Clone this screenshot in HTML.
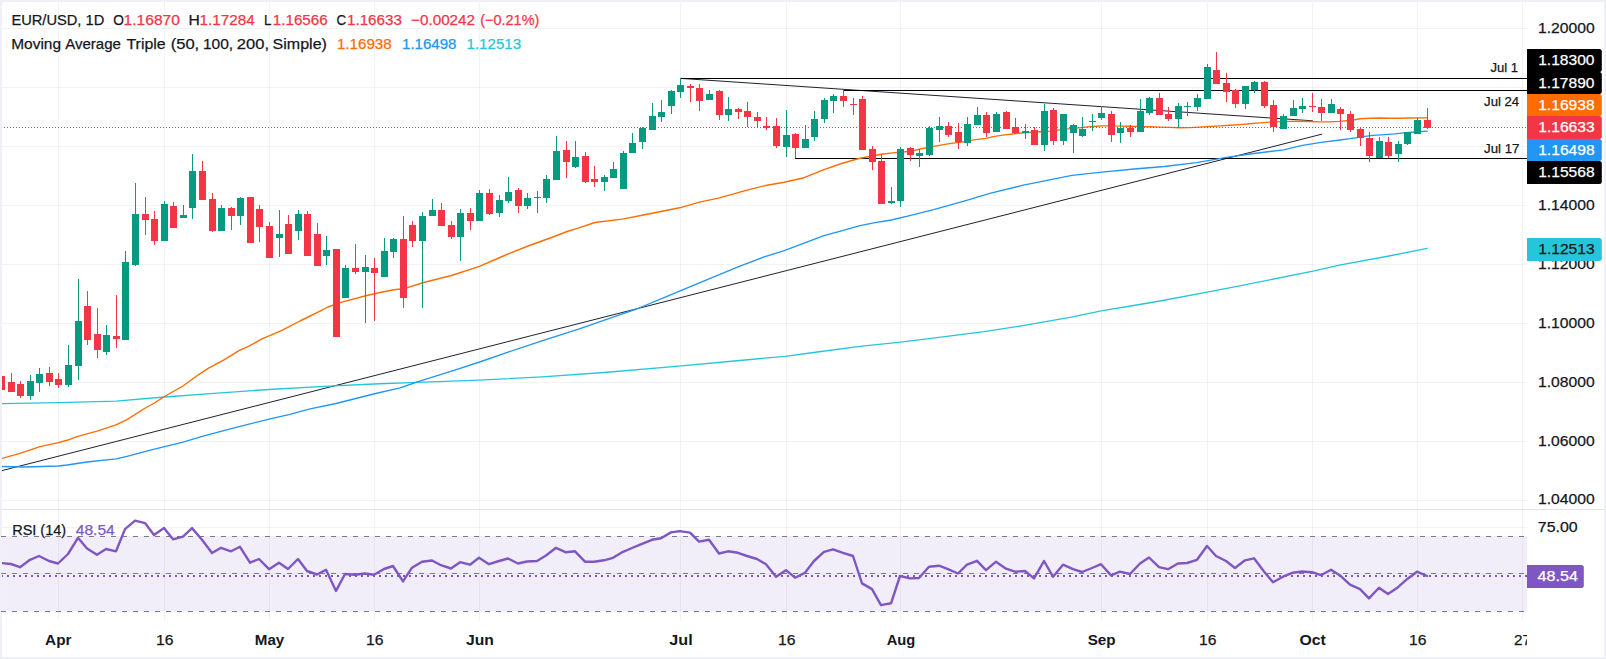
<!DOCTYPE html>
<html><head><meta charset="utf-8"><title>EUR/USD chart</title>
<style>html,body{margin:0;padding:0;background:#fff}body{width:1606px;height:659px;overflow:hidden}svg{display:block}</style></head>
<body>
<svg width="1606" height="659" viewBox="0 0 1606 659" font-family="'Liberation Sans', sans-serif">
<rect x="0" y="0" width="1606" height="659" fill="#eef0f5"/>
<rect x="1.9" y="1.9" width="1602.1999999999998" height="655.1" fill="#fff"/>
<defs><clipPath id="cp"><rect x="2" y="2" width="1525" height="655"/></clipPath></defs>
<g stroke="rgb(42,46,57)" stroke-opacity="0.06" stroke-width="1" shape-rendering="crispEdges">
<line x1="58.5" y1="2" x2="58.5" y2="621"/>
<line x1="164.5" y1="2" x2="164.5" y2="621"/>
<line x1="269.5" y1="2" x2="269.5" y2="621"/>
<line x1="374.5" y1="2" x2="374.5" y2="621"/>
<line x1="479.5" y1="2" x2="479.5" y2="621"/>
<line x1="680.5" y1="2" x2="680.5" y2="621"/>
<line x1="786.5" y1="2" x2="786.5" y2="621"/>
<line x1="900.5" y1="2" x2="900.5" y2="621"/>
<line x1="1101.5" y1="2" x2="1101.5" y2="621"/>
<line x1="1207.5" y1="2" x2="1207.5" y2="621"/>
<line x1="1312.5" y1="2" x2="1312.5" y2="621"/>
<line x1="1417.5" y1="2" x2="1417.5" y2="621"/>
<line x1="1522.5" y1="2" x2="1522.5" y2="621"/>
<line x1="2" y1="28.5" x2="1527" y2="28.5"/>
<line x1="2" y1="87.5" x2="1527" y2="87.5"/>
<line x1="2" y1="146.5" x2="1527" y2="146.5"/>
<line x1="2" y1="205.5" x2="1527" y2="205.5"/>
<line x1="2" y1="264.5" x2="1527" y2="264.5"/>
<line x1="2" y1="323.5" x2="1527" y2="323.5"/>
<line x1="2" y1="382.5" x2="1527" y2="382.5"/>
<line x1="2" y1="441.5" x2="1527" y2="441.5"/>
<line x1="2" y1="500.5" x2="1527" y2="500.5"/>
<line x1="2" y1="527.5" x2="1527" y2="527.5"/>
<line x1="2" y1="573.5" x2="1527" y2="573.5"/>
</g>
<line x1="2" y1="509.5" x2="1604" y2="509.5" stroke="#e0e3eb" stroke-width="1" shape-rendering="crispEdges"/>
<rect x="2" y="536" width="1525" height="75" fill="#7e57c2" fill-opacity="0.1"/>
<g stroke="#787b86" stroke-width="1" stroke-dasharray="5 6" fill="none" shape-rendering="crispEdges">
<line x1="1" y1="536.5" x2="1525" y2="536.5"/>
<line x1="1" y1="573.5" x2="1525" y2="573.5"/>
<line x1="1" y1="611.5" x2="1525" y2="611.5"/>
</g>
<g clip-path="url(#cp)">
<line x1="1.5" y1="470.7" x2="1321.7" y2="134.2" stroke="#1e222d" stroke-width="1" stroke-linecap="round"/>
<line x1="680.6" y1="78.4" x2="1312.5" y2="120.8" stroke="#1e222d" stroke-width="1" stroke-linecap="round"/>
<g stroke="#000" stroke-width="1" shape-rendering="crispEdges">
<line x1="679.5" y1="78.5" x2="1528" y2="78.5"/>
<line x1="842.5" y1="90.5" x2="1528" y2="90.5"/>
<line x1="794.5" y1="158.5" x2="1528" y2="158.5"/>
</g>
<polyline fill="none" stroke="#26c6da" stroke-width="1.35" stroke-linejoin="round" stroke-linecap="round" points="1.5,403.7 58.5,402.7 116.0,401.2 164.4,397.0 214.0,393.3 269.0,389.5 324.0,386.3 373.6,384.0 417.4,382.4 479.6,380.2 541.9,376.9 604.2,372.5 678.9,366.2 728.7,361.5 784.9,356.3 817.3,352.0 859.6,346.3 900.7,342.1 946.8,336.4 984.2,331.6 1021.5,325.9 1071.3,317.2 1101.2,310.9 1133.6,305.5 1160.0,301.0 1207.2,292.1 1239.6,285.9 1314.3,270.9 1339.3,265.2 1389.0,256.0 1427.2,248.3"/>
<polyline fill="none" stroke="#2196f3" stroke-width="1.35" stroke-linejoin="round" stroke-linecap="round" points="1.5,466.5 25.0,467.0 58.5,466.0 67.0,465.0 87.0,462.0 116.0,458.8 127.0,456.3 149.4,450.3 183.0,442.1 204.0,435.9 239.0,426.6 269.0,419.2 289.0,414.7 309.0,409.2 336.0,403.5 373.6,394.0 400.0,387.8 417.4,381.9 454.7,370.2 479.6,362.0 504.5,353.3 541.9,340.8 579.3,328.9 616.6,315.9 636.5,309.0 666.4,296.7 698.8,283.1 738.7,266.6 764.2,256.9 784.2,250.7 804.1,243.2 824.0,235.7 841.5,230.8 858.9,225.8 873.8,222.8 891.3,220.0 908.7,215.8 933.6,209.6 964.9,200.9 989.8,193.4 1022.2,185.4 1047.1,180.4 1072.0,175.4 1101.9,172.2 1134.3,169.0 1164.2,166.5 1196.5,162.7 1226.4,157.3 1253.8,153.5 1283.7,149.8 1301.1,145.6 1321.1,142.3 1340.0,140.0 1350.0,138.7 1356.9,137.6 1364.9,136.4 1372.9,135.4 1384.8,134.7 1394.8,133.9 1403.7,132.9 1415.0,132.0 1427.2,131.1"/>
<polyline fill="none" stroke="#ff6d00" stroke-width="1.4" stroke-linejoin="round" stroke-linecap="round" points="1.5,458.5 20.0,453.3 40.0,446.6 58.5,442.6 67.0,440.3 77.0,436.6 97.0,431.1 116.0,424.9 127.0,419.7 144.5,408.5 154.4,403.0 164.4,396.5 183.0,386.0 199.0,374.3 209.0,367.9 224.0,359.9 239.0,350.7 249.0,346.2 261.5,339.2 281.4,330.7 300.0,321.0 320.0,311.2 328.0,307.0 340.0,302.6 365.8,295.7 380.0,292.5 393.7,289.7 403.7,288.8 423.6,282.5 451.5,275.5 479.4,266.3 504.5,255.5 529.4,245.5 554.3,236.5 567.0,231.5 577.4,228.3 594.9,222.5 622.3,219.1 642.2,215.3 679.6,207.8 699.5,202.1 719.4,197.9 744.3,190.9 766.7,185.2 784.2,182.2 804.1,177.7 824.0,169.7 841.5,163.5 858.9,158.5 881.3,154.3 893.0,152.9 905.0,151.8 914.9,150.3 923.9,148.3 933.9,146.4 944.8,144.4 954.8,142.9 963.7,141.7 973.7,139.9 985.7,138.4 994.6,136.4 1004.6,134.9 1014.5,133.7 1024.5,132.7 1039.4,131.7 1049.4,131.1 1058.0,130.1 1067.9,128.9 1078.9,127.9 1087.8,126.9 1096.8,126.3 1101.8,125.9 1107.8,125.9 1119.7,126.1 1129.7,126.3 1136.7,126.4 1149.6,126.7 1159.6,127.1 1169.5,127.4 1179.5,127.7 1189.4,127.6 1199.4,127.1 1210.0,126.5 1219.9,125.9 1229.9,125.3 1239.8,124.6 1249.8,123.7 1259.8,122.9 1269.7,122.1 1289.6,121.4 1299.6,121.2 1309.6,121.5 1319.5,121.9 1329.5,121.9 1339.4,121.4 1349.4,120.5 1355.9,119.5 1359.9,118.7 1369.9,118.2 1379.8,118.0 1389.8,118.2 1399.8,118.2 1409.7,118.0 1427.2,117.9"/>
<g fill="#f23645" shape-rendering="crispEdges">
<rect x="1.0" y="364" width="1" height="26"/>
<rect x="-2.0" y="376" width="7" height="14"/>
<rect x="11.0" y="373" width="1" height="19"/>
<rect x="8.0" y="382" width="7" height="10"/>
<rect x="20.0" y="381" width="1" height="17"/>
<rect x="17.0" y="384" width="7" height="12"/>
<rect x="49.0" y="367" width="1" height="19"/>
<rect x="46.0" y="373" width="7" height="9"/>
<rect x="58.0" y="373" width="1" height="15"/>
<rect x="55.0" y="379" width="7" height="6"/>
<rect x="87.0" y="291" width="1" height="54"/>
<rect x="84.0" y="306" width="7" height="34"/>
<rect x="97.0" y="308" width="1" height="50"/>
<rect x="94.0" y="334" width="7" height="16"/>
<rect x="116.0" y="295" width="1" height="53"/>
<rect x="113.0" y="336" width="7" height="3"/>
<rect x="145.0" y="197" width="1" height="38"/>
<rect x="142.0" y="214" width="7" height="6"/>
<rect x="154.0" y="211" width="1" height="34"/>
<rect x="151.0" y="219" width="7" height="22"/>
<rect x="173.0" y="202" width="1" height="26"/>
<rect x="170.0" y="206" width="7" height="22"/>
<rect x="202.0" y="161" width="1" height="39"/>
<rect x="199.0" y="171" width="7" height="29"/>
<rect x="212.0" y="193" width="1" height="39"/>
<rect x="209.0" y="199" width="7" height="32"/>
<rect x="231.0" y="207" width="1" height="23"/>
<rect x="228.0" y="208" width="7" height="8"/>
<rect x="250.0" y="197" width="1" height="46"/>
<rect x="247.0" y="197" width="7" height="46"/>
<rect x="259.0" y="205" width="1" height="37"/>
<rect x="256.0" y="209" width="7" height="18"/>
<rect x="269.0" y="222" width="1" height="36"/>
<rect x="266.0" y="226" width="7" height="32"/>
<rect x="288.0" y="215" width="1" height="39"/>
<rect x="285.0" y="224" width="7" height="30"/>
<rect x="307.0" y="211" width="1" height="45"/>
<rect x="304.0" y="214" width="7" height="42"/>
<rect x="317.0" y="223" width="1" height="43"/>
<rect x="314.0" y="234" width="7" height="32"/>
<rect x="336.0" y="249" width="1" height="88"/>
<rect x="333.0" y="249" width="7" height="88"/>
<rect x="355.0" y="244" width="1" height="30"/>
<rect x="352.0" y="268" width="7" height="4"/>
<rect x="374.0" y="258" width="1" height="63"/>
<rect x="371.0" y="268" width="7" height="5"/>
<rect x="403.0" y="216" width="1" height="92"/>
<rect x="400.0" y="239" width="7" height="59"/>
<rect x="412.0" y="221" width="1" height="26"/>
<rect x="409.0" y="225" width="7" height="16"/>
<rect x="441.0" y="203" width="1" height="23"/>
<rect x="438.0" y="210" width="7" height="16"/>
<rect x="451.0" y="221" width="1" height="18"/>
<rect x="448.0" y="225" width="7" height="12"/>
<rect x="470.0" y="208" width="1" height="22"/>
<rect x="467.0" y="213" width="7" height="8"/>
<rect x="489.0" y="189" width="1" height="26"/>
<rect x="486.0" y="193" width="7" height="21"/>
<rect x="518.0" y="188" width="1" height="25"/>
<rect x="515.0" y="190" width="7" height="16"/>
<rect x="566.0" y="141" width="1" height="37"/>
<rect x="563.0" y="150" width="7" height="12"/>
<rect x="585.0" y="152" width="1" height="31"/>
<rect x="582.0" y="156" width="7" height="26"/>
<rect x="594.0" y="166" width="1" height="21"/>
<rect x="591.0" y="179" width="7" height="3"/>
<rect x="690.0" y="84" width="1" height="18"/>
<rect x="687.0" y="86" width="7" height="2"/>
<rect x="699.0" y="84" width="1" height="27"/>
<rect x="696.0" y="88" width="7" height="13"/>
<rect x="719.0" y="90" width="1" height="30"/>
<rect x="716.0" y="91" width="7" height="24"/>
<rect x="738.0" y="108" width="1" height="11"/>
<rect x="735.0" y="109" width="7" height="3"/>
<rect x="747.0" y="102" width="1" height="25"/>
<rect x="744.0" y="111" width="7" height="6"/>
<rect x="757.0" y="112" width="1" height="16"/>
<rect x="754.0" y="117" width="7" height="4"/>
<rect x="766.0" y="117" width="1" height="13"/>
<rect x="763.0" y="126" width="7" height="2"/>
<rect x="776.0" y="118" width="1" height="30"/>
<rect x="773.0" y="126" width="7" height="20"/>
<rect x="795.0" y="133" width="1" height="25"/>
<rect x="792.0" y="134" width="7" height="14"/>
<rect x="843.0" y="90" width="1" height="17"/>
<rect x="840.0" y="96" width="7" height="5"/>
<rect x="853.0" y="98" width="1" height="17"/>
<rect x="850.0" y="104" width="7" height="1"/>
<rect x="862.0" y="96" width="1" height="54"/>
<rect x="859.0" y="99" width="7" height="51"/>
<rect x="872.0" y="146" width="1" height="24"/>
<rect x="869.0" y="149" width="7" height="13"/>
<rect x="881.0" y="154" width="1" height="50"/>
<rect x="878.0" y="161" width="7" height="43"/>
<rect x="910.0" y="147" width="1" height="14"/>
<rect x="907.0" y="148" width="7" height="7"/>
<rect x="948.0" y="122" width="1" height="15"/>
<rect x="945.0" y="126" width="7" height="9"/>
<rect x="958.0" y="123" width="1" height="26"/>
<rect x="955.0" y="132" width="7" height="10"/>
<rect x="986.0" y="112" width="1" height="25"/>
<rect x="983.0" y="115" width="7" height="18"/>
<rect x="1006.0" y="111" width="1" height="18"/>
<rect x="1003.0" y="112" width="7" height="17"/>
<rect x="1015.0" y="118" width="1" height="16"/>
<rect x="1012.0" y="127" width="7" height="6"/>
<rect x="1034.0" y="127" width="1" height="18"/>
<rect x="1031.0" y="130" width="7" height="15"/>
<rect x="1053.0" y="108" width="1" height="37"/>
<rect x="1050.0" y="110" width="7" height="31"/>
<rect x="1111.0" y="111" width="1" height="31"/>
<rect x="1108.0" y="114" width="7" height="21"/>
<rect x="1130.0" y="125" width="1" height="12"/>
<rect x="1127.0" y="128" width="7" height="4"/>
<rect x="1159.0" y="93" width="1" height="22"/>
<rect x="1156.0" y="98" width="7" height="17"/>
<rect x="1168.0" y="107" width="1" height="14"/>
<rect x="1165.0" y="114" width="7" height="5"/>
<rect x="1216.0" y="52" width="1" height="32"/>
<rect x="1213.0" y="70" width="7" height="14"/>
<rect x="1226.0" y="73" width="1" height="29"/>
<rect x="1223.0" y="83" width="7" height="9"/>
<rect x="1235.0" y="89" width="1" height="19"/>
<rect x="1232.0" y="90" width="7" height="14"/>
<rect x="1264.0" y="81" width="1" height="27"/>
<rect x="1261.0" y="82" width="7" height="24"/>
<rect x="1273.0" y="100" width="1" height="32"/>
<rect x="1270.0" y="105" width="7" height="22"/>
<rect x="1312.0" y="93" width="1" height="19"/>
<rect x="1309.0" y="106" width="7" height="1"/>
<rect x="1321.0" y="99" width="1" height="22"/>
<rect x="1318.0" y="107" width="7" height="6"/>
<rect x="1340.0" y="107" width="1" height="23"/>
<rect x="1337.0" y="109" width="7" height="5"/>
<rect x="1350.0" y="111" width="1" height="21"/>
<rect x="1347.0" y="114" width="7" height="16"/>
<rect x="1360.0" y="127" width="1" height="19"/>
<rect x="1357.0" y="129" width="7" height="9"/>
<rect x="1369.0" y="132" width="1" height="30"/>
<rect x="1366.0" y="138" width="7" height="18"/>
<rect x="1388.0" y="137" width="1" height="21"/>
<rect x="1385.0" y="142" width="7" height="14"/>
<rect x="1427.0" y="108" width="1" height="21"/>
<rect x="1424.0" y="120" width="7" height="8"/>
</g>
<g fill="#089981" shape-rendering="crispEdges">
<rect x="30.0" y="375" width="1" height="25"/>
<rect x="27.0" y="381" width="7" height="15"/>
<rect x="39.0" y="368" width="1" height="24"/>
<rect x="36.0" y="374" width="7" height="9"/>
<rect x="68.0" y="345" width="1" height="42"/>
<rect x="65.0" y="365" width="7" height="20"/>
<rect x="78.0" y="279" width="1" height="101"/>
<rect x="75.0" y="321" width="7" height="45"/>
<rect x="106.0" y="325" width="1" height="30"/>
<rect x="103.0" y="335" width="7" height="17"/>
<rect x="125.0" y="251" width="1" height="89"/>
<rect x="122.0" y="262" width="7" height="78"/>
<rect x="135.0" y="183" width="1" height="83"/>
<rect x="132.0" y="214" width="7" height="51"/>
<rect x="164.0" y="201" width="1" height="40"/>
<rect x="161.0" y="204" width="7" height="37"/>
<rect x="183.0" y="205" width="1" height="13"/>
<rect x="180.0" y="215" width="7" height="3"/>
<rect x="192.0" y="154" width="1" height="65"/>
<rect x="189.0" y="171" width="7" height="37"/>
<rect x="221.0" y="205" width="1" height="26"/>
<rect x="218.0" y="208" width="7" height="23"/>
<rect x="240.0" y="197" width="1" height="28"/>
<rect x="237.0" y="198" width="7" height="18"/>
<rect x="279.0" y="210" width="1" height="47"/>
<rect x="276.0" y="234" width="7" height="4"/>
<rect x="298.0" y="210" width="1" height="30"/>
<rect x="295.0" y="214" width="7" height="17"/>
<rect x="326.0" y="236" width="1" height="29"/>
<rect x="323.0" y="250" width="7" height="6"/>
<rect x="345.0" y="265" width="1" height="33"/>
<rect x="342.0" y="268" width="7" height="30"/>
<rect x="365.0" y="255" width="1" height="68"/>
<rect x="362.0" y="267" width="7" height="5"/>
<rect x="384.0" y="238" width="1" height="39"/>
<rect x="381.0" y="251" width="7" height="26"/>
<rect x="393.0" y="238" width="1" height="20"/>
<rect x="390.0" y="239" width="7" height="13"/>
<rect x="422.0" y="212" width="1" height="96"/>
<rect x="419.0" y="216" width="7" height="25"/>
<rect x="432.0" y="199" width="1" height="17"/>
<rect x="429.0" y="210" width="7" height="6"/>
<rect x="460.0" y="209" width="1" height="52"/>
<rect x="457.0" y="213" width="7" height="24"/>
<rect x="479.0" y="190" width="1" height="31"/>
<rect x="476.0" y="193" width="7" height="28"/>
<rect x="499.0" y="195" width="1" height="22"/>
<rect x="496.0" y="200" width="7" height="13"/>
<rect x="508.0" y="177" width="1" height="26"/>
<rect x="505.0" y="192" width="7" height="9"/>
<rect x="527.0" y="193" width="1" height="16"/>
<rect x="524.0" y="198" width="7" height="8"/>
<rect x="537.0" y="191" width="1" height="22"/>
<rect x="534.0" y="197" width="7" height="1"/>
<rect x="546.0" y="175" width="1" height="28"/>
<rect x="543.0" y="179" width="7" height="19"/>
<rect x="556.0" y="136" width="1" height="44"/>
<rect x="553.0" y="151" width="7" height="29"/>
<rect x="575.0" y="141" width="1" height="27"/>
<rect x="572.0" y="157" width="7" height="10"/>
<rect x="604.0" y="175" width="1" height="16"/>
<rect x="601.0" y="177" width="7" height="5"/>
<rect x="613.0" y="162" width="1" height="16"/>
<rect x="610.0" y="169" width="7" height="9"/>
<rect x="623.0" y="151" width="1" height="38"/>
<rect x="620.0" y="153" width="7" height="36"/>
<rect x="632.0" y="133" width="1" height="20"/>
<rect x="629.0" y="143" width="7" height="10"/>
<rect x="642.0" y="127" width="1" height="22"/>
<rect x="639.0" y="128" width="7" height="14"/>
<rect x="652.0" y="103" width="1" height="27"/>
<rect x="649.0" y="116" width="7" height="14"/>
<rect x="661.0" y="100" width="1" height="22"/>
<rect x="658.0" y="112" width="7" height="5"/>
<rect x="671.0" y="90" width="1" height="24"/>
<rect x="668.0" y="91" width="7" height="15"/>
<rect x="680.0" y="78" width="1" height="20"/>
<rect x="677.0" y="85" width="7" height="7"/>
<rect x="709.0" y="90" width="1" height="10"/>
<rect x="706.0" y="94" width="7" height="6"/>
<rect x="728.0" y="97" width="1" height="24"/>
<rect x="725.0" y="109" width="7" height="6"/>
<rect x="786.0" y="110" width="1" height="47"/>
<rect x="783.0" y="135" width="7" height="12"/>
<rect x="805.0" y="125" width="1" height="23"/>
<rect x="802.0" y="139" width="7" height="9"/>
<rect x="814.0" y="111" width="1" height="30"/>
<rect x="811.0" y="119" width="7" height="18"/>
<rect x="824.0" y="98" width="1" height="25"/>
<rect x="821.0" y="100" width="7" height="19"/>
<rect x="833.0" y="94" width="1" height="19"/>
<rect x="830.0" y="96" width="7" height="5"/>
<rect x="891.0" y="187" width="1" height="17"/>
<rect x="888.0" y="201" width="7" height="2"/>
<rect x="900.0" y="147" width="1" height="60"/>
<rect x="897.0" y="149" width="7" height="52"/>
<rect x="919.0" y="149" width="1" height="18"/>
<rect x="916.0" y="153" width="7" height="3"/>
<rect x="929.0" y="126" width="1" height="30"/>
<rect x="926.0" y="128" width="7" height="27"/>
<rect x="939.0" y="117" width="1" height="25"/>
<rect x="936.0" y="126" width="7" height="4"/>
<rect x="967.0" y="117" width="1" height="29"/>
<rect x="964.0" y="124" width="7" height="19"/>
<rect x="977.0" y="107" width="1" height="18"/>
<rect x="974.0" y="115" width="7" height="10"/>
<rect x="996.0" y="112" width="1" height="20"/>
<rect x="993.0" y="114" width="7" height="18"/>
<rect x="1025.0" y="124" width="1" height="15"/>
<rect x="1022.0" y="131" width="7" height="2"/>
<rect x="1044.0" y="104" width="1" height="47"/>
<rect x="1041.0" y="111" width="7" height="34"/>
<rect x="1063.0" y="114" width="1" height="31"/>
<rect x="1060.0" y="114" width="7" height="27"/>
<rect x="1073.0" y="124" width="1" height="29"/>
<rect x="1070.0" y="125" width="7" height="8"/>
<rect x="1082.0" y="117" width="1" height="20"/>
<rect x="1079.0" y="129" width="7" height="7"/>
<rect x="1092.0" y="114" width="1" height="17"/>
<rect x="1089.0" y="121" width="7" height="1"/>
<rect x="1101.0" y="106" width="1" height="14"/>
<rect x="1098.0" y="113" width="7" height="5"/>
<rect x="1120.0" y="122" width="1" height="21"/>
<rect x="1117.0" y="128" width="7" height="5"/>
<rect x="1140.0" y="99" width="1" height="33"/>
<rect x="1137.0" y="111" width="7" height="21"/>
<rect x="1149.0" y="97" width="1" height="18"/>
<rect x="1146.0" y="98" width="7" height="15"/>
<rect x="1178.0" y="103" width="1" height="25"/>
<rect x="1175.0" y="106" width="7" height="13"/>
<rect x="1187.0" y="102" width="1" height="14"/>
<rect x="1184.0" y="106" width="7" height="1"/>
<rect x="1197.0" y="94" width="1" height="17"/>
<rect x="1194.0" y="98" width="7" height="9"/>
<rect x="1207.0" y="64" width="1" height="35"/>
<rect x="1204.0" y="67" width="7" height="32"/>
<rect x="1245.0" y="86" width="1" height="23"/>
<rect x="1242.0" y="86" width="7" height="18"/>
<rect x="1254.0" y="81" width="1" height="12"/>
<rect x="1251.0" y="82" width="7" height="8"/>
<rect x="1283.0" y="114" width="1" height="15"/>
<rect x="1280.0" y="116" width="7" height="13"/>
<rect x="1293.0" y="100" width="1" height="16"/>
<rect x="1290.0" y="108" width="7" height="8"/>
<rect x="1302.0" y="98" width="1" height="15"/>
<rect x="1299.0" y="106" width="7" height="3"/>
<rect x="1331.0" y="99" width="1" height="14"/>
<rect x="1328.0" y="104" width="7" height="9"/>
<rect x="1379.0" y="137" width="1" height="21"/>
<rect x="1376.0" y="141" width="7" height="17"/>
<rect x="1398.0" y="141" width="1" height="21"/>
<rect x="1395.0" y="144" width="7" height="10"/>
<rect x="1407.0" y="132" width="1" height="13"/>
<rect x="1404.0" y="132" width="7" height="12"/>
<rect x="1417.0" y="118" width="1" height="16"/>
<rect x="1414.0" y="120" width="7" height="14"/>
</g>
<line x1="1" y1="127.5" x2="1527" y2="127.5" stroke="#f23645" stroke-width="1" stroke-dasharray="1 2" shape-rendering="crispEdges"/>
<line x1="1" y1="576" x2="1527" y2="576" stroke="#7e57c2" stroke-width="2" stroke-dasharray="2 4" shape-rendering="crispEdges"/>
<polyline fill="none" stroke="#7e57c2" stroke-width="2.4" stroke-linejoin="round" stroke-linecap="round" points="1.0,563.0 11.0,564.0 20.0,567.2 30.0,559.8 39.0,556.0 49.0,561.0 58.0,563.5 68.0,554.0 78.0,537.8 87.0,548.5 97.0,554.8 106.0,549.0 116.0,551.3 125.0,529.1 135.0,520.7 145.0,523.1 154.0,534.9 164.0,527.9 173.0,539.3 183.0,536.6 192.0,528.1 202.0,539.8 212.0,553.0 221.0,547.8 231.0,551.3 240.0,546.8 250.0,562.7 259.0,559.0 269.0,569.2 279.0,562.7 288.0,569.0 298.0,559.0 307.0,571.0 317.0,574.5 326.0,569.7 336.0,590.9 345.0,574.0 355.0,574.7 365.0,573.5 374.0,574.7 384.0,569.0 393.0,566.0 403.0,581.4 412.0,567.7 422.0,561.7 432.0,560.5 441.0,565.2 451.0,568.5 460.0,562.2 470.0,564.7 479.0,557.8 489.0,564.2 499.0,561.0 508.0,558.5 518.0,563.5 527.0,561.5 537.0,561.0 546.0,555.5 556.0,547.8 566.0,552.3 575.0,551.3 585.0,561.7 594.0,561.7 604.0,560.3 613.0,557.8 623.0,551.8 632.0,548.0 642.0,543.8 652.0,539.8 661.0,538.3 671.0,532.4 680.0,531.1 690.0,532.6 699.0,541.6 709.0,539.8 719.0,553.5 728.0,551.3 738.0,552.8 747.0,556.0 757.0,559.0 766.0,564.2 776.0,576.7 786.0,570.2 795.0,577.7 805.0,572.7 814.0,561.0 824.0,551.8 833.0,549.3 843.0,552.8 853.0,556.0 862.0,583.4 872.0,589.1 881.0,605.1 891.0,603.3 900.0,576.0 910.0,578.4 919.0,578.0 929.0,566.7 939.0,565.7 948.0,569.2 958.0,573.5 967.0,564.7 977.0,560.8 986.0,570.2 996.0,561.7 1006.0,568.7 1015.0,571.7 1025.0,571.0 1034.0,578.4 1044.0,561.0 1053.0,576.7 1063.0,564.7 1073.0,569.2 1082.0,572.0 1092.0,568.0 1101.0,564.2 1111.0,575.4 1120.0,571.7 1130.0,574.0 1140.0,563.5 1149.0,557.5 1159.0,567.2 1168.0,569.2 1178.0,563.5 1187.0,563.0 1197.0,559.8 1207.0,546.0 1216.0,556.0 1226.0,561.0 1235.0,568.0 1245.0,560.3 1254.0,558.3 1264.0,571.5 1273.0,582.2 1283.0,576.7 1293.0,572.7 1302.0,571.5 1312.0,572.2 1321.0,575.2 1331.0,569.7 1340.0,575.4 1350.0,584.7 1360.0,589.1 1369.0,598.4 1379.0,587.7 1388.0,594.1 1398.0,587.2 1407.0,579.2 1417.0,571.7 1427.0,576.0"/>
</g>
<text x="1537.99" y="33.1" fill="#131722" font-size="15" textLength="56.63" lengthAdjust="spacingAndGlyphs" stroke="#131722" stroke-width="0.25">1.20000</text>
<text x="1537.99" y="210.1" fill="#131722" font-size="15" textLength="56.63" lengthAdjust="spacingAndGlyphs" stroke="#131722" stroke-width="0.25">1.14000</text>
<text x="1537.99" y="269.1" fill="#131722" font-size="15" textLength="56.63" lengthAdjust="spacingAndGlyphs" stroke="#131722" stroke-width="0.25">1.12000</text>
<text x="1537.99" y="328.1" fill="#131722" font-size="15" textLength="56.63" lengthAdjust="spacingAndGlyphs" stroke="#131722" stroke-width="0.25">1.10000</text>
<text x="1537.99" y="387.1" fill="#131722" font-size="15" textLength="56.63" lengthAdjust="spacingAndGlyphs" stroke="#131722" stroke-width="0.25">1.08000</text>
<text x="1537.99" y="446.1" fill="#131722" font-size="15" textLength="56.63" lengthAdjust="spacingAndGlyphs" stroke="#131722" stroke-width="0.25">1.06000</text>
<text x="1537.99" y="504.40000000000003" fill="#131722" font-size="15" textLength="56.63" lengthAdjust="spacingAndGlyphs" stroke="#131722" stroke-width="0.25">1.04000</text>
<text x="1537.82" y="532.1" fill="#131722" font-size="15" textLength="39.87" lengthAdjust="spacingAndGlyphs" stroke="#131722" stroke-width="0.25">75.00</text>
<path d="M1527 238H1599.3Q1601.8 238 1601.8 240.5V258.5Q1601.8 261 1599.3 261H1527Z" fill="#26c6da"/>
<path d="M1527 49H1599.3Q1601.8 49 1601.8 51.5V69.5Q1601.8 72 1599.3 72H1527Z" fill="#000"/>
<path d="M1527 72H1599.3Q1601.8 72 1601.8 74.5V91.5Q1601.8 94 1599.3 94H1527Z" fill="#000"/>
<path d="M1527 94H1599.3Q1601.8 94 1601.8 96.5V113.5Q1601.8 116 1599.3 116H1527Z" fill="#ff6d00"/>
<path d="M1527 116H1599.3Q1601.8 116 1601.8 118.5V136.5Q1601.8 139 1599.3 139H1527Z" fill="#f23645"/>
<path d="M1527 139H1599.3Q1601.8 139 1601.8 141.5V158.5Q1601.8 161 1599.3 161H1527Z" fill="#2196f3"/>
<path d="M1527 161H1599.3Q1601.8 161 1601.8 163.5V181.5Q1601.8 184 1599.3 184H1527Z" fill="#000"/>
<path d="M1527 565H1581.3Q1583.8 565 1583.8 567.5V585.5Q1583.8 588 1581.3 588H1527Z" fill="#7e57c2"/>
<text x="11.40" y="25.3" fill="#131722" font-size="14.8" textLength="92.85" lengthAdjust="spacingAndGlyphs" stroke="#131722" stroke-width="0.25">EUR/USD, 1D</text>
<text x="113.18" y="25.3" fill="#131722" font-size="14.8" textLength="10.71" lengthAdjust="spacingAndGlyphs" stroke="#131722" stroke-width="0.25">O</text>
<text x="123.61" y="25.3" fill="#f23645" font-size="14.8" textLength="56.26" lengthAdjust="spacingAndGlyphs" stroke="#f23645" stroke-width="0.25">1.16870</text>
<text x="188.55" y="25.3" fill="#131722" font-size="14.8" textLength="11.26" lengthAdjust="spacingAndGlyphs" stroke="#131722" stroke-width="0.25">H</text>
<text x="199.47" y="25.3" fill="#f23645" font-size="14.8" textLength="55.25" lengthAdjust="spacingAndGlyphs" stroke="#f23645" stroke-width="0.25">1.17284</text>
<text x="264.06" y="25.3" fill="#131722" font-size="14.8" textLength="7.47" lengthAdjust="spacingAndGlyphs" stroke="#131722" stroke-width="0.25">L</text>
<text x="272.89" y="25.3" fill="#f23645" font-size="14.8" textLength="54.73" lengthAdjust="spacingAndGlyphs" stroke="#f23645" stroke-width="0.25">1.16566</text>
<text x="336.49" y="25.3" fill="#131722" font-size="14.8" textLength="9.62" lengthAdjust="spacingAndGlyphs" stroke="#131722" stroke-width="0.25">C</text>
<text x="347.00" y="25.3" fill="#f23645" font-size="14.8" textLength="54.88" lengthAdjust="spacingAndGlyphs" stroke="#f23645" stroke-width="0.25">1.16633</text>
<text x="411.04" y="25.3" fill="#f23645" font-size="14.8" textLength="64.02" lengthAdjust="spacingAndGlyphs" stroke="#f23645" stroke-width="0.25">−0.00242</text>
<text x="480.21" y="25.3" fill="#f23645" font-size="14.8" textLength="59.11" lengthAdjust="spacingAndGlyphs" stroke="#f23645" stroke-width="0.25">(−0.21%)</text>
<text x="11.20" y="48.7" fill="#131722" font-size="14.8" textLength="49.86" lengthAdjust="spacingAndGlyphs" stroke="#131722" stroke-width="0.25">Moving</text>
<text x="65.26" y="48.7" fill="#131722" font-size="14.8" textLength="55.67" lengthAdjust="spacingAndGlyphs" stroke="#131722" stroke-width="0.25">Average</text>
<text x="126.49" y="48.7" fill="#131722" font-size="14.8" textLength="39.11" lengthAdjust="spacingAndGlyphs" stroke="#131722" stroke-width="0.25">Triple</text>
<text x="170.66" y="48.7" fill="#131722" font-size="14.8" textLength="28.55" lengthAdjust="spacingAndGlyphs" stroke="#131722" stroke-width="0.25">(50,</text>
<text x="202.96" y="48.7" fill="#131722" font-size="14.8" textLength="30.20" lengthAdjust="spacingAndGlyphs" stroke="#131722" stroke-width="0.25">100,</text>
<text x="236.85" y="48.7" fill="#131722" font-size="14.8" textLength="32.18" lengthAdjust="spacingAndGlyphs" stroke="#131722" stroke-width="0.25">200,</text>
<text x="272.58" y="48.7" fill="#131722" font-size="14.8" textLength="54.33" lengthAdjust="spacingAndGlyphs" stroke="#131722" stroke-width="0.25">Simple)</text>
<text x="336.90" y="48.7" fill="#ff6d00" font-size="14.8" textLength="54.78" lengthAdjust="spacingAndGlyphs" stroke="#ff6d00" stroke-width="0.25">1.16938</text>
<text x="402.00" y="48.7" fill="#2196f3" font-size="14.8" textLength="54.51" lengthAdjust="spacingAndGlyphs" stroke="#2196f3" stroke-width="0.25">1.16498</text>
<text x="466.50" y="48.7" fill="#26c6da" font-size="14.8" textLength="54.57" lengthAdjust="spacingAndGlyphs" stroke="#26c6da" stroke-width="0.25">1.12513</text>
<text x="12.20" y="534.9" fill="#131722" font-size="14.8" textLength="53.95" lengthAdjust="spacingAndGlyphs" stroke="#131722" stroke-width="0.25">RSI (14)</text>
<text x="75.71" y="534.9" fill="#7e57c2" font-size="14.8" textLength="39.05" lengthAdjust="spacingAndGlyphs" stroke="#7e57c2" stroke-width="0.25">48.54</text>
<text x="1538.20" y="254.4" fill="#131722" font-size="15" textLength="56.52" lengthAdjust="spacingAndGlyphs" stroke="#131722" stroke-width="0.25">1.12513</text>
<text x="1538.21" y="65.4" fill="#fff" font-size="15" textLength="56.29" lengthAdjust="spacingAndGlyphs" stroke="#fff" stroke-width="0.25">1.18300</text>
<text x="1538.21" y="87.9" fill="#fff" font-size="15" textLength="56.29" lengthAdjust="spacingAndGlyphs" stroke="#fff" stroke-width="0.25">1.17890</text>
<text x="1538.20" y="109.9" fill="#fff" font-size="15" textLength="56.41" lengthAdjust="spacingAndGlyphs" stroke="#fff" stroke-width="0.25">1.16938</text>
<text x="1538.20" y="132.4" fill="#fff" font-size="15" textLength="56.52" lengthAdjust="spacingAndGlyphs" stroke="#fff" stroke-width="0.25">1.16633</text>
<text x="1538.20" y="154.9" fill="#fff" font-size="15" textLength="56.41" lengthAdjust="spacingAndGlyphs" stroke="#fff" stroke-width="0.25">1.16498</text>
<text x="1538.20" y="177.4" fill="#fff" font-size="15" textLength="56.41" lengthAdjust="spacingAndGlyphs" stroke="#fff" stroke-width="0.25">1.15568</text>
<text x="1537.62" y="581.4" fill="#fff" font-size="15" textLength="40.22" lengthAdjust="spacingAndGlyphs" stroke="#fff" stroke-width="0.25">48.54</text>
<text x="1490.45" y="72.2" fill="#131722" font-size="12.8" textLength="27.62" lengthAdjust="spacingAndGlyphs" stroke="#131722" stroke-width="0.25">Jul 1</text>
<text x="1484.10" y="106.1" fill="#131722" font-size="12.8" textLength="35.10" lengthAdjust="spacingAndGlyphs" stroke="#131722" stroke-width="0.25">Jul 24</text>
<text x="1484.11" y="153.1" fill="#131722" font-size="12.8" textLength="35.39" lengthAdjust="spacingAndGlyphs" stroke="#131722" stroke-width="0.25">Jul 17</text>
<text x="45.12" y="644.5" fill="#131722" font-size="14.8" textLength="26.39" lengthAdjust="spacingAndGlyphs" font-weight="bold">Apr</text>
<text x="155.96" y="644.5" fill="#131722" font-size="14.8" textLength="17.45" lengthAdjust="spacingAndGlyphs" stroke="#131722" stroke-width="0.25">16</text>
<text x="254.80" y="644.5" fill="#131722" font-size="14.8" textLength="29.46" lengthAdjust="spacingAndGlyphs" font-weight="bold">May</text>
<text x="365.96" y="644.5" fill="#131722" font-size="14.8" textLength="17.45" lengthAdjust="spacingAndGlyphs" stroke="#131722" stroke-width="0.25">16</text>
<text x="465.94" y="644.5" fill="#131722" font-size="14.8" textLength="27.88" lengthAdjust="spacingAndGlyphs" font-weight="bold">Jun</text>
<text x="669.31" y="644.5" fill="#131722" font-size="14.8" textLength="23.36" lengthAdjust="spacingAndGlyphs" font-weight="bold">Jul</text>
<text x="777.96" y="644.5" fill="#131722" font-size="14.8" textLength="17.45" lengthAdjust="spacingAndGlyphs" stroke="#131722" stroke-width="0.25">16</text>
<text x="886.68" y="644.5" fill="#131722" font-size="14.8" textLength="28.62" lengthAdjust="spacingAndGlyphs" font-weight="bold">Aug</text>
<text x="1087.65" y="644.5" fill="#131722" font-size="14.8" textLength="27.90" lengthAdjust="spacingAndGlyphs" font-weight="bold">Sep</text>
<text x="1198.96" y="644.5" fill="#131722" font-size="14.8" textLength="17.45" lengthAdjust="spacingAndGlyphs" stroke="#131722" stroke-width="0.25">16</text>
<text x="1299.51" y="644.5" fill="#131722" font-size="14.8" textLength="26.30" lengthAdjust="spacingAndGlyphs" font-weight="bold">Oct</text>
<text x="1408.96" y="644.5" fill="#131722" font-size="14.8" textLength="17.45" lengthAdjust="spacingAndGlyphs" stroke="#131722" stroke-width="0.25">16</text>
<g clip-path="url(#cp)">
<text x="1514.03" y="644.5" fill="#131722" font-size="14.8" textLength="16.94" lengthAdjust="spacingAndGlyphs" stroke="#131722" stroke-width="0.25">27</text>
</g>
</svg>
</body></html>
